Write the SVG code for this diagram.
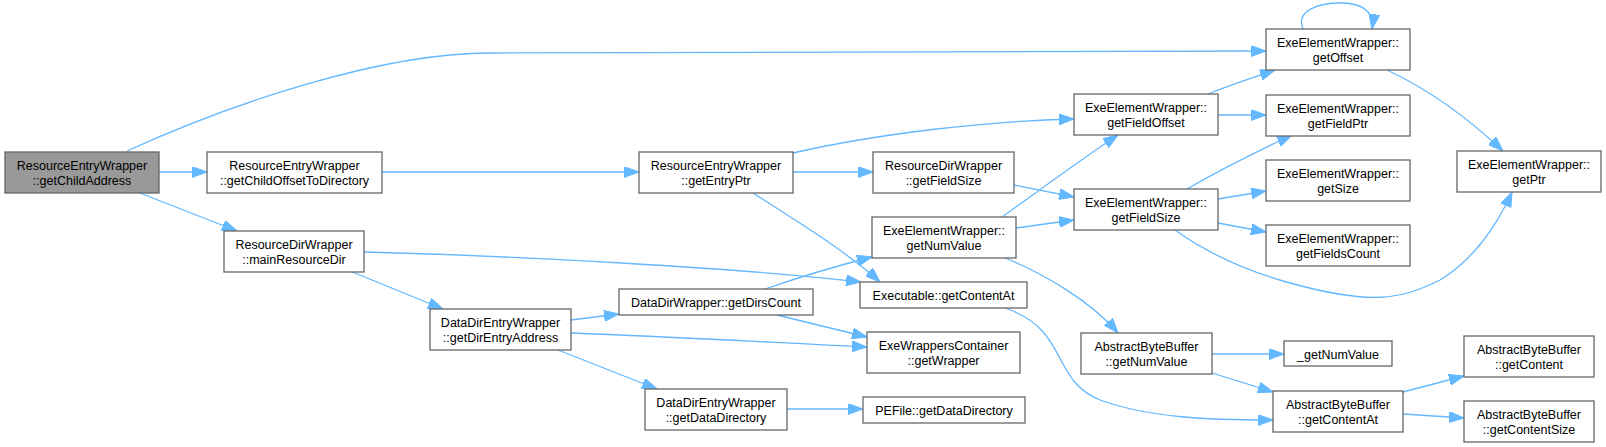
<svg xmlns="http://www.w3.org/2000/svg" width="1606" height="447" viewBox="0 0 1606 447">
<style>
.n rect{fill:#ffffff;stroke:#666666;stroke-width:1.3}
.root rect{fill:#999999}
text{font-family:"Liberation Sans",Arial,sans-serif;font-size:12.5px;fill:#000;text-anchor:middle}
#edges path{fill:none;stroke:#63b8ff;stroke-width:1.3;marker-end:url(#ah)}
</style>
<defs>
<marker id="ah" markerUnits="userSpaceOnUse" markerWidth="15" markerHeight="11" refX="15" refY="5.5" orient="auto">
<path d="M0,0 L15,5.5 L0,11 z" fill="#63b8ff" stroke="#63b8ff" stroke-width="1"/>
</marker>
</defs>
<rect width="1606" height="447" fill="#ffffff"/>
<g id="edges">
<path d="M127,151 C230,104 380,53 490,53 L1266,51"/>
<path d="M159,172 L207,172"/>
<path d="M140,193 L237,231"/>
<path d="M382,172 L639,172"/>
<path d="M793,153 C880,133 990,121 1074,119"/>
<path d="M793,172 L873,172"/>
<path d="M753,193 C790,217 845,250 880,282"/>
<path d="M364,252 C520,256 740,268 861,282"/>
<path d="M350,271 L443,309"/>
<path d="M571,320 L619,314"/>
<path d="M571,333 C680,337 780,343 867,347"/>
<path d="M558,350 L657,389"/>
<path d="M765,289 C800,277 840,265 872,257"/>
<path d="M777,315 L867,337"/>
<path d="M787,409 L863,409"/>
<path d="M1005,308 C1070,330 1050,380 1100,400 C1150,418 1210,420 1273,420"/>
<path d="M1002,217 C1040,190 1080,160 1118,135"/>
<path d="M1016,228 L1074,220"/>
<path d="M1005,258 C1040,272 1090,300 1118,333"/>
<path d="M1014,185 L1074,197"/>
<path d="M1187,189 C1220,170 1260,150 1292,135"/>
<path d="M1218,199 L1266,191"/>
<path d="M1218,223 L1266,232"/>
<path d="M1175,230 C1210,255 1250,272 1290,283 C1370,305 1400,300 1440,280 C1470,262 1495,230 1512,192"/>
<path d="M1208,94 C1230,85 1255,77 1275,70"/>
<path d="M1218,115 L1266,115"/>
<path d="M1303,29 C1295,10 1320,3 1340,3 C1360,3 1375,10 1372,29"/>
<path d="M1387,70 C1430,90 1470,120 1503,151"/>
<path d="M1212,354 L1284,354"/>
<path d="M1212,373 L1273,392"/>
<path d="M1403,392 L1464,376"/>
<path d="M1403,414 L1464,418"/>
</g>
<g id="n1" class="n root"><rect x="5" y="152" width="154" height="41"/><text x="82" y="170">ResourceEntryWrapper</text><text x="82" y="185">::getChildAddress</text></g>
<g id="n2" class="n"><rect x="207" y="152" width="175" height="41"/><text x="294.5" y="170">ResourceEntryWrapper</text><text x="294.5" y="185">::getChildOffsetToDirectory</text></g>
<g id="n3" class="n"><rect x="639" y="152" width="154" height="41"/><text x="716" y="170">ResourceEntryWrapper</text><text x="716" y="185">::getEntryPtr</text></g>
<g id="n4" class="n"><rect x="873" y="152" width="141" height="41"/><text x="943.5" y="170">ResourceDirWrapper</text><text x="943.5" y="185">::getFieldSize</text></g>
<g id="n5" class="n"><rect x="1074" y="94" width="144" height="41"/><text x="1146" y="112">ExeElementWrapper::</text><text x="1146" y="127">getFieldOffset</text></g>
<g id="n6" class="n"><rect x="1266" y="29" width="144" height="41"/><text x="1338" y="47">ExeElementWrapper::</text><text x="1338" y="62">getOffset</text></g>
<g id="n7" class="n"><rect x="1266" y="95" width="144" height="41"/><text x="1338" y="113">ExeElementWrapper::</text><text x="1338" y="128">getFieldPtr</text></g>
<g id="n8" class="n"><rect x="1266" y="160" width="144" height="41"/><text x="1338" y="178">ExeElementWrapper::</text><text x="1338" y="193">getSize</text></g>
<g id="n9" class="n"><rect x="1457" y="151" width="144" height="41"/><text x="1529" y="169">ExeElementWrapper::</text><text x="1529" y="184">getPtr</text></g>
<g id="n10" class="n"><rect x="1266" y="225" width="144" height="41"/><text x="1338" y="243">ExeElementWrapper::</text><text x="1338" y="258">getFieldsCount</text></g>
<g id="n11" class="n"><rect x="1074" y="189" width="144" height="41"/><text x="1146" y="207">ExeElementWrapper::</text><text x="1146" y="222">getFieldSize</text></g>
<g id="n12" class="n"><rect x="872" y="217" width="144" height="41"/><text x="944" y="235">ExeElementWrapper::</text><text x="944" y="250">getNumValue</text></g>
<g id="n13" class="n"><rect x="860" y="282" width="167" height="26"/><text x="943.5" y="300">Executable::getContentAt</text></g>
<g id="n14" class="n"><rect x="867" y="332" width="153" height="41"/><text x="943.5" y="350">ExeWrappersContainer</text><text x="943.5" y="365">::getWrapper</text></g>
<g id="n15" class="n"><rect x="863" y="397" width="162" height="26"/><text x="944" y="415">PEFile::getDataDirectory</text></g>
<g id="n16" class="n"><rect x="1081" y="333" width="131" height="41"/><text x="1146.5" y="351">AbstractByteBuffer</text><text x="1146.5" y="366">::getNumValue</text></g>
<g id="n17" class="n"><rect x="1284" y="341" width="108" height="25"/><text x="1338" y="359">_getNumValue</text></g>
<g id="n18" class="n"><rect x="1464" y="336" width="130" height="41"/><text x="1529" y="354">AbstractByteBuffer</text><text x="1529" y="369">::getContent</text></g>
<g id="n19" class="n"><rect x="1273" y="391" width="130" height="41"/><text x="1338" y="409">AbstractByteBuffer</text><text x="1338" y="424">::getContentAt</text></g>
<g id="n20" class="n"><rect x="1464" y="401" width="130" height="41"/><text x="1529" y="419">AbstractByteBuffer</text><text x="1529" y="434">::getContentSize</text></g>
<g id="n21" class="n"><rect x="224" y="231" width="140" height="41"/><text x="294" y="249">ResourceDirWrapper</text><text x="294" y="264">::mainResourceDir</text></g>
<g id="n22" class="n"><rect x="430" y="309" width="141" height="41"/><text x="500.5" y="327">DataDirEntryWrapper</text><text x="500.5" y="342">::getDirEntryAddress</text></g>
<g id="n23" class="n"><rect x="619" y="289" width="194" height="26"/><text x="716" y="307">DataDirWrapper::getDirsCount</text></g>
<g id="n24" class="n"><rect x="645" y="389" width="142" height="41"/><text x="716" y="407">DataDirEntryWrapper</text><text x="716" y="422">::getDataDirectory</text></g>
</svg>
